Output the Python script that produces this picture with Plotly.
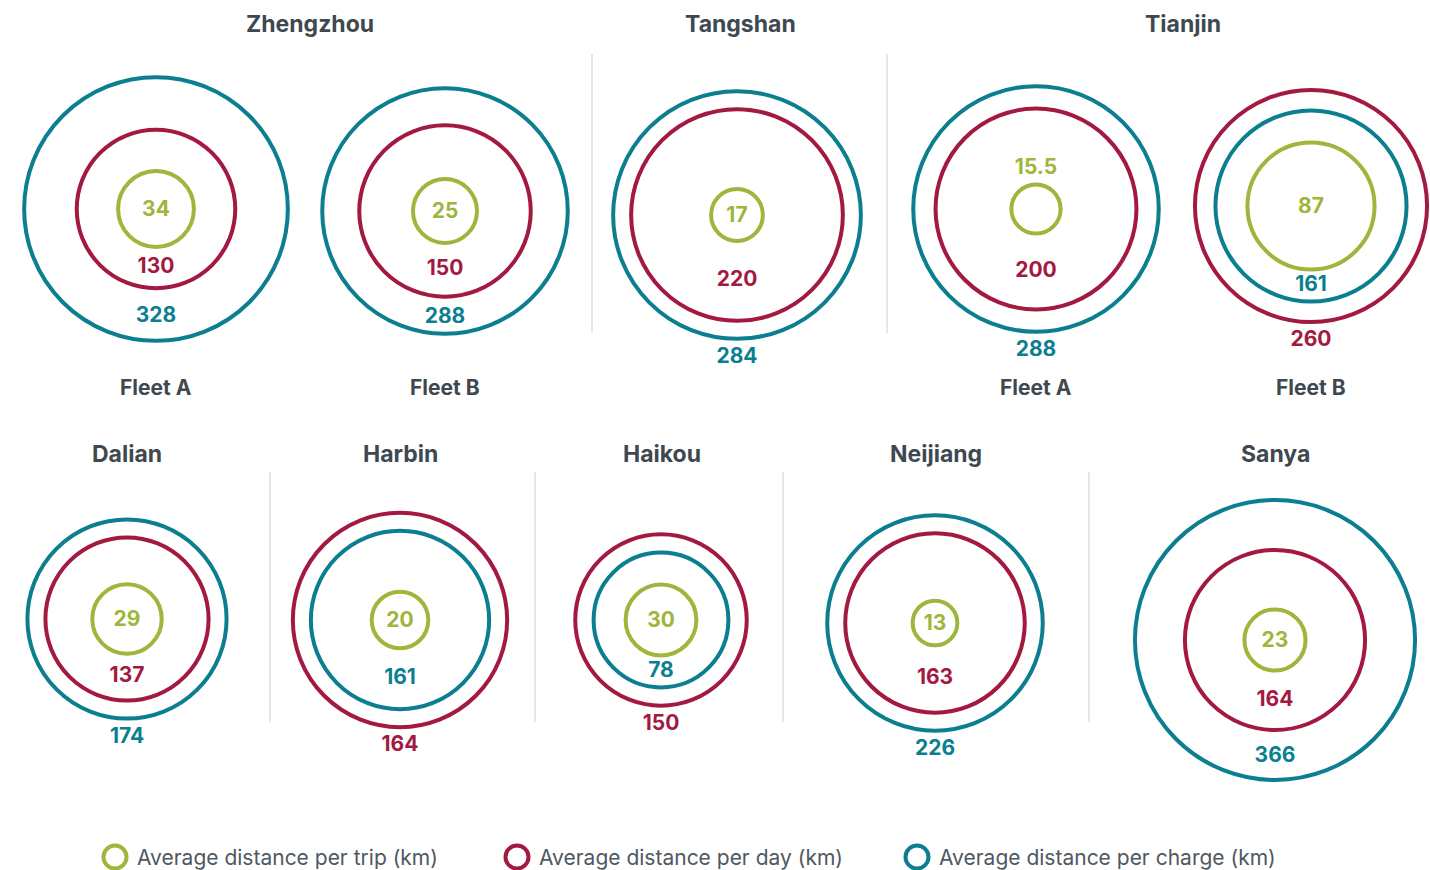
import plotly.graph_objects as go

# ------------------------------------------------------------------ data
group_city = ["Zhengzhou", "Zhengzhou", "Tangshan", "Tianjin", "Tianjin",
              "Dalian", "Harbin", "Haikou", "Neijiang", "Sanya"]
group_fleet = ["Fleet A", "Fleet B", "", "Fleet A", "Fleet B", "", "", "", "", ""]
per_trip = [34, 25, 17, 15.5, 87, 29, 20, 30, 13, 23]
per_day = [130, 150, 220, 200, 260, 137, 164, 150, 163, 164]
per_charge = [328, 288, 284, 288, 161, 174, 161, 78, 226, 366]
series_names = ["Average distance per trip (km)",
                "Average distance per day (km)",
                "Average distance per charge (km)"]
panel_titles = ["Zhengzhou", "Tangshan", "Tianjin", "Dalian", "Harbin",
                "Haikou", "Neijiang", "Sanya"]

# ------------------------------------------------------------------ layout / style
W, H = 1430, 870
group_cx = [156, 445, 737, 1036, 1311, 127, 400, 661, 935, 1275]
group_cy = [209, 211, 215, 209, 206, 619, 620, 620, 623, 640]
title_x = [310, 740, 1183, 127, 400, 662, 936, 1275]
title_row = [0, 0, 0, 1, 1, 1, 1, 1]
row_title_y = [24, 454]
fleet_label_y = 387
separators = [(592, 54, 333), (887, 54, 333), (270, 472, 722),
              (535, 472, 722), (783, 472, 722), (1089, 472, 722)]
legend_x = [115, 517, 917]
legend_y = 857
colors = ["#9db63b", "#a3193f", "#0b7f8f"]
title_color = "#3e4851"
legend_text_color = "#4f5860"
FONT = "Inter, 'Open Sans', sans-serif"
STROKE = 4
MIN_GAPS = [32, 18]   # minimum px between inner->middle, middle->outer rings
TEXT_DY = 2


def ring_radius(v):
    # value -> ring radius in px (area-like power scale)
    return 5.45 * v ** 0.55


def fmt(v):
    return f"{v:g}"


series_values = [per_trip, per_day, per_charge]
n = len(group_city)

ring_x = [[] for _ in range(3)]
ring_y = [[] for _ in range(3)]
ring_d = [[] for _ in range(3)]
lab_x = [[] for _ in range(3)]
lab_y = [[] for _ in range(3)]
lab_t = [[] for _ in range(3)]

for g in range(n):
    cx, cy = group_cx[g], group_cy[g]
    vals = [series_values[s][g] for s in range(3)]
    order = sorted(range(3), key=lambda s: vals[s])
    radii = [0.0] * 3
    prev = None
    for k, s in enumerate(order):
        r = ring_radius(vals[s])
        if prev is not None:
            r = max(r, prev + MIN_GAPS[k - 1])
        radii[s] = r
        prev = r
    for s in range(3):
        ring_x[s].append(cx)
        ring_y[s].append(cy)
        ring_d[s].append(2 * radii[s])
    inner, mid, outer = order
    # inner label: centred, or above the ring if it does not fit
    t = fmt(vals[inner])
    if len(t) * 12 > 2 * radii[inner] - 8:
        ly = cy - radii[inner] - 18
    else:
        ly = cy
    lab_x[inner].append(cx); lab_y[inner].append(ly + TEXT_DY); lab_t[inner].append(t)
    # middle label: in the band between inner and middle ring
    ly = cy + (radii[inner] + radii[mid]) / 2
    lab_x[mid].append(cx); lab_y[mid].append(ly); lab_t[mid].append(fmt(vals[mid]))
    # outer label: inside the outer band if wide enough, else below
    gap = radii[outer] - radii[mid]
    if gap >= 28:
        ly = cy + (radii[mid] + radii[outer]) / 2
    else:
        ly = cy + radii[outer] + 2 + 15
    lab_x[outer].append(cx); lab_y[outer].append(ly + TEXT_DY); lab_t[outer].append(fmt(vals[outer]))

fig = go.Figure()
for s in range(3):
    fig.add_trace(go.Scatter(
        x=ring_x[s], y=ring_y[s], mode="markers", name=series_names[s],
        marker=dict(symbol="circle-open", size=ring_d[s], sizemode="diameter",
                    opacity=1, color=colors[s],
                    line=dict(width=STROKE, color=colors[s])),
        hoverinfo="skip", showlegend=False))
for s in range(3):
    fig.add_trace(go.Scatter(
        x=lab_x[s], y=lab_y[s], mode="text", text=lab_t[s],
        textposition="middle center",
        textfont=dict(family=FONT, size=21, color=colors[s], weight=700),
        hoverinfo="skip", showlegend=False))

# legend (drawn manually)
fig.add_trace(go.Scatter(
    x=legend_x, y=[legend_y] * 3, mode="markers",
    marker=dict(symbol="circle-open", size=23, color=colors, opacity=1,
                line=dict(width=STROKE, color=colors)),
    hoverinfo="skip", showlegend=False, cliponaxis=False))

annotations = []
for i, name in enumerate(series_names):
    annotations.append(dict(x=legend_x[i] + 20, y=legend_y, text=name, showarrow=False,
                            xanchor="left", yanchor="middle",
                            font=dict(family=FONT, size=21, color=legend_text_color)))
for i, t in enumerate(panel_titles):
    annotations.append(dict(x=title_x[i], y=row_title_y[title_row[i]], text=t, showarrow=False,
                            xanchor="center", yanchor="middle",
                            font=dict(family=FONT, size=23, color=title_color, weight=700)))
for g in range(n):
    if group_fleet[g]:
        annotations.append(dict(x=group_cx[g], y=fleet_label_y, text=group_fleet[g],
                                showarrow=False, xanchor="center", yanchor="middle",
                                font=dict(family=FONT, size=21, color=title_color, weight=700)))

shapes = [dict(type="line", x0=x, x1=x, y0=y0, y1=y1, xref="x", yref="y",
               line=dict(color="#dedede", width=1.5)) for x, y0, y1 in separators]

fig.update_layout(
    width=W, height=H, autosize=False,
    margin=dict(l=0, r=0, t=0, b=0),
    paper_bgcolor="white", plot_bgcolor="white",
    xaxis=dict(range=[0, W], visible=False, fixedrange=True),
    yaxis=dict(range=[H, 0], visible=False, fixedrange=True),
    annotations=annotations, shapes=shapes,
    showlegend=False,
)

fig.write_html("out.html", config={"displayModeBar": False},
               post_script="document.body.style.margin='0';")
